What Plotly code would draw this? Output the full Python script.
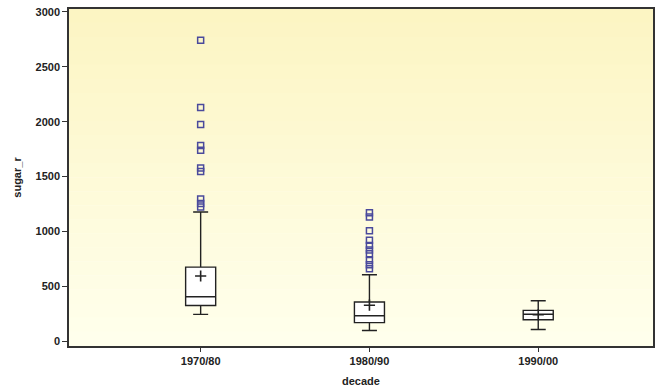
import plotly.graph_objects as go

# ---- data ----
decades = ["1970/80", "1980/90", "1990/00"]
positions = [0, 1, 2]
q1 = [324, 168, 194]
median = [404, 231, 245]
q3 = [674, 356, 280]
lower_whisker = [243, 96, 106]
upper_whisker = [1177, 604, 367]
means = [593, 327, 240]
outliers_1970 = [2743, 2129, 1974, 1782, 1740, 1578, 1545, 1294, 1255, 1222]
outliers_1980 = [1170, 1130, 1005, 920, 870, 830, 795, 735, 695, 660]
outliers_1990 = []

fig = go.Figure()

# pale yellow gradient background (decoration)
top_rgb = (252, 245, 195)
bot_rgb = (255, 255, 236)
n = 24
for i in range(n):
    t = i / (n - 1)
    c = tuple(round(top_rgb[k] + (bot_rgb[k] - top_rgb[k]) * t) for k in range(3))
    fig.add_shape(type="rect", xref="paper", yref="paper",
                  x0=0, x1=1, y0=1 - (i + 1) / n, y1=1 - i / n + 0.001,
                  fillcolor="rgb(%d,%d,%d)" % c, line_width=0, layer="below")

fig.add_trace(go.Box(
    x=positions, q1=q1, median=median, q3=q3,
    lowerfence=lower_whisker, upperfence=upper_whisker,
    width=0.178, whiskerwidth=0.5,
    fillcolor="white", line=dict(color="#222222", width=1.4),
    boxpoints=False, showlegend=False, hoverinfo="skip",
))

# outliers
out_x, out_y = [], []
for pos, vals in zip(positions, [outliers_1970, outliers_1980, outliers_1990]):
    out_x += [pos] * len(vals)
    out_y += vals
fig.add_trace(go.Scatter(
    x=out_x, y=out_y, mode="markers", showlegend=False,
    marker=dict(symbol="square-open", size=6, color="#4a4a9c",
                line=dict(width=1.5, color="#4a4a9c")),
))

# means
fig.add_trace(go.Scatter(
    x=positions, y=means, mode="markers", showlegend=False,
    marker=dict(symbol="cross-thin", size=8,
                line=dict(width=1.6, color="#222222")),
))

font_family = "Liberation Sans, Arial, sans-serif"
fig.update_layout(
    width=661, height=392,
    margin=dict(l=69, r=8, t=6, b=44),
    paper_bgcolor="white",
    plot_bgcolor="rgba(0,0,0,0)",
    font=dict(family=font_family, size=11, color="#222222"),
    xaxis=dict(
        range=[-0.78, 2.68], tickvals=positions, ticktext=["<b>%s</b>" % d for d in decades],
        showgrid=False, zeroline=False, showline=True, mirror=True,
        linecolor="#333333", linewidth=1.5, ticks="outside", ticklen=4,
        tickcolor="#333333",
        title=dict(text="<b>decade</b>", standoff=11, font=dict(size=11)),
    ),
    yaxis=dict(
        range=[-45, 3027], tickvals=[0, 500, 1000, 1500, 2000, 2500, 3000],
        ticktext=["<b>%d</b>" % v for v in [0, 500, 1000, 1500, 2000, 2500, 3000]],
        showgrid=False, zeroline=False, showline=True, mirror=True,
        linecolor="#333333", linewidth=1.5, ticks="outside", ticklen=5,
        tickcolor="#333333",
        title=dict(text="<b>sugar_r</b>", standoff=12, font=dict(size=11)),
    ),
)

fig.write_html("out.html")
